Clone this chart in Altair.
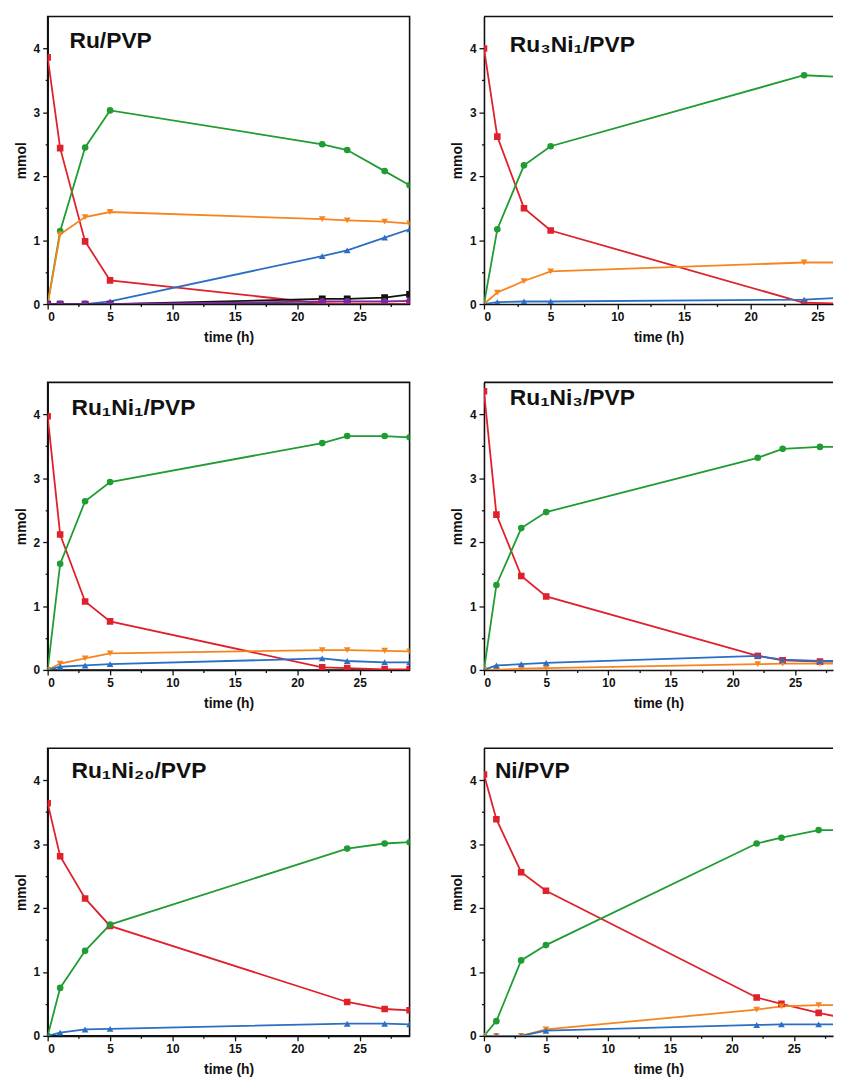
import altair as alt
import pandas as pd

# ---------------- data ----------------
T8 = [0, 1, 3, 5, 22, 24, 27, 29]

# Ru/PVP
ru_red = [3.86, 2.44, 0.98, 0.37, 0.01, 0.0, 0.0, 0.0]
ru_green = [0, 1.14, 2.45, 3.03, 2.50, 2.41, 2.08, 1.86]
ru_orange = [0, 1.09, 1.36, 1.44, 1.33, 1.31, 1.29, 1.26]
ru_blue = [0, 0, 0, 0.04, 0.75, 0.84, 1.04, 1.17]
ru_black = [0, 0, 0, 0, 0.08, 0.08, 0.10, 0.15]
ru_purple = [0, 0, 0, 0, 0.04, 0.04, 0.04, 0.05]

# Ru3Ni1/PVP
T6 = [0, 1, 3, 5, 24, 29]
r31_red = [4.0, 2.62, 1.50, 1.15, 0.02, 0.0]
r31_green = [0, 1.17, 2.17, 2.47, 3.58, 3.53]
r31_orange = [0, 0.18, 0.36, 0.51, 0.65, 0.65]
r31_blue = [0, 0.03, 0.04, 0.04, 0.07, 0.12]

# Ru1Ni1/PVP
r11_red = [3.97, 2.12, 1.07, 0.76, 0.04, 0.03, 0.01, 0.01]
r11_green = [0, 1.66, 2.64, 2.94, 3.55, 3.66, 3.66, 3.64]
r11_orange = [0, 0.10, 0.18, 0.26, 0.31, 0.31, 0.30, 0.29]
r11_blue = [0, 0.05, 0.07, 0.09, 0.18, 0.14, 0.12, 0.12]

# Ru1Ni3/PVP
r13_red = [4.36, 2.43, 1.47, 1.15, 0.22, 0.15, 0.13, 0.13]
r13_green = [0, 1.33, 2.22, 2.47, 3.32, 3.46, 3.49, 3.49]
r13_orange = [0, 0.0, 0.02, 0.03, 0.09, 0.10, 0.10, 0.10]
r13_blue = [0, 0.07, 0.09, 0.11, 0.22, 0.16, 0.14, 0.14]

# Ru1Ni20/PVP
T7 = [0, 1, 3, 5, 24, 27, 29]
r120_red = [3.64, 2.81, 2.15, 1.72, 0.53, 0.42, 0.40]
r120_green = [0, 0.75, 1.33, 1.74, 2.93, 3.01, 3.03]
r120_blue = [0, 0.05, 0.10, 0.11, 0.19, 0.19, 0.18]

# Ni/PVP
ni_red = [4.09, 3.39, 2.56, 2.27, 0.60, 0.50, 0.36, 0.28]
ni_green = [0, 0.23, 1.18, 1.42, 3.01, 3.10, 3.22, 3.22]
ni_orange = [0, 0, 0, 0.10, 0.41, 0.46, 0.48, 0.48]
ni_blue = [0, 0, 0, 0.08, 0.17, 0.18, 0.18, 0.18]

SERIES = ["red", "green", "orange", "blue", "black", "purple"]
COLORS = ["#e0212b", "#1f9c32", "#f7851f", "#2a6fc4", "#111111", "#7a2a9a"]
SHAPES = ["square", "circle", "triangle-down", "triangle-up", "square", "circle"]
SIZES = [44, 48, 54, 54, 48, 22]

FONT = "Liberation Sans"
PH = 290


def make_df(times, **series):
    rows = []
    for name, vals in series.items():
        for t, v in zip(times, vals):
            rows.append({"t": t, "v": v, "s": name})
    return pd.DataFrame(rows)


def panel(label, df, width, xmax, tx, ty, right):
    xvals = [i * 2.5 for i in range(int(xmax / 2.5) + 1)]
    yvals = [i * 0.5 for i in range(9)]
    xscale = alt.Scale(domain=[0, xmax], nice=False, zero=False)
    yscale = alt.Scale(domain=[0, 4.5], nice=False)
    xax = alt.Axis(values=xvals,
                   labelExpr="datum.value % 5 == 0 ? format(datum.value, 'd') : ''",
                   tickSize={"condition": {"test": "datum.value % 5 != 0", "value": 2.5},
                             "value": 5},
                   title="time (h)")
    yax = alt.Axis(values=yvals,
                   labelExpr="datum.value % 1 == 0 ? format(datum.value, 'd') : ''",
                   tickSize={"condition": {"test": "datum.value % 1 != 0", "value": 2.5},
                             "value": 5},
                   title="mmol")
    cs = alt.Scale(domain=SERIES, range=COLORS)
    ss = alt.Scale(domain=SERIES, range=SHAPES)
    zs = alt.Scale(domain=SERIES, range=SIZES)
    base = alt.Chart(df).encode(
        x=alt.X("t:Q", scale=xscale, axis=xax),
        y=alt.Y("v:Q", scale=yscale, axis=yax),
        color=alt.Color("s:N", scale=cs, legend=None),
    )
    lines = base.mark_line(clip=True, strokeWidth=1.8)
    pts = base.mark_point(filled=True, clip=True, opacity=1).encode(
        shape=alt.Shape("s:N", scale=ss, legend=None),
        size=alt.Size("s:N", scale=zs, legend=None),
    )
    title = alt.Chart(pd.DataFrame({"label": [label]})).mark_text(
        align="left", baseline="middle", fontSize=23, fontWeight="bold",
        font=FONT, color="#111111"
    ).encode(x=alt.value(tx), y=alt.value(ty), text="label:N")
    if right:
        # frame: top border only (the right border is cut off in the original)
        frame = alt.Chart(pd.DataFrame({"label": [label]})).mark_rule(
            color="#111111", strokeWidth=1.6
        ).encode(x=alt.value(0), x2=alt.value(width), y=alt.value(0))
        ch = alt.layer(lines, pts, frame, title).properties(
            width=width, height=PH,
            view=alt.ViewBackground(stroke="transparent"),
        )
    else:
        ch = alt.layer(lines, pts, title).properties(width=width, height=PH)
    return ch


LW = 365
RW = 352
p1 = panel("Ru/PVP", make_df(T8, red=ru_red, green=ru_green, orange=ru_orange,
                                blue=ru_blue, black=ru_black, purple=ru_purple),
           LW, 29, 22, 25, False)
p2 = panel("Ru\u2083Ni\u2081/PVP", make_df(T6, red=r31_red, green=r31_green,
                                            orange=r31_orange, blue=r31_blue),
           RW, RW / 13.45, 26, 29, True)
p3 = panel("Ru\u2081Ni\u2081/PVP", make_df(T8, red=r11_red, green=r11_green,
                                            orange=r11_orange, blue=r11_blue),
           LW, 29, 24, 26, False)
p4 = panel("Ru\u2081Ni\u2083/PVP", make_df(T8, red=r13_red, green=r13_green,
                                            orange=r13_orange, blue=r13_blue),
           RW, RW / 12.55, 26, 16, True)
p5 = panel("Ru\u2081Ni\u2082\u2080/PVP", make_df(T7, red=r120_red, green=r120_green,
                                                  blue=r120_blue),
           LW, 29, 24, 23, False)
p6 = panel("Ni/PVP", make_df(T8, red=ni_red, green=ni_green,
                             orange=ni_orange, blue=ni_blue),
           RW, RW / 12.5, 11, 23, True)

row1 = alt.hconcat(p1, p2, spacing=39)
row2 = alt.hconcat(p3, p4, spacing=39)
row3 = alt.hconcat(p5, p6, spacing=39)

chart = alt.vconcat(row1, row2, row3, spacing=35).properties(
    padding={"left": 5, "top": 2, "right": 0, "bottom": 0}
).configure_view(
    stroke="#111111", strokeWidth=1.6
).configure_axis(
    grid=False,
    domainColor="#111111", domainWidth=1.6,
    tickColor="#111111", tickWidth=1.3,
    labelFont=FONT, labelFontWeight="bold", labelFontSize=12, labelColor="#111111",
    labelPadding=3,
    titleFont=FONT, titleFontWeight="bold", titleFontSize=14, titleColor="#111111",
).configure_axisX(titlePadding=8).configure_axisY(titlePadding=5)

chart.save("out.html", embed_options={"renderer": "svg", "actions": False})
